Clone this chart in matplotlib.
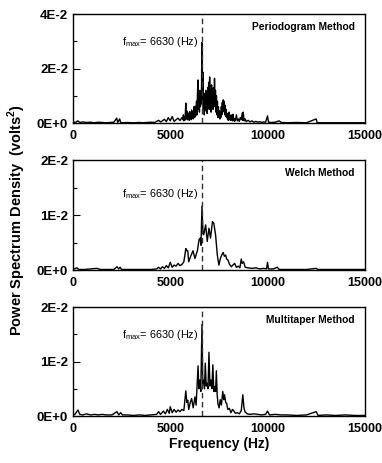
import numpy as np
import matplotlib
matplotlib.use("Agg")
import matplotlib.pyplot as plt
from matplotlib import font_manager as fm
from matplotlib.ticker import FuncFormatter, MultipleLocator

# keep the regular-width Liberation Sans (drop the Narrow files)
fm.fontManager.ttflist = [f for f in fm.fontManager.ttflist if "Narrow" not in f.fname]
plt.rcParams["font.family"] = ["Liberation Sans", "DejaVu Sans"]

F_MAX = 6630

# --- Periodogram: sparse baseline + dense band (25 Hz bins) + tail ---
pg_lo_f = [0, 150, 250, 350, 500, 700, 900, 1100, 1300, 1500, 1700, 1900, 2100, 2250,
           2300, 2400, 2450, 2600, 2800, 3000, 3200, 3400, 3600, 3800, 4000, 4200, 4300,
           4400, 4500, 4600, 4700, 4800, 4900, 5000, 5100, 5200, 5300, 5400, 5500, 5600]
pg_lo_p = [0.0002, 0.0003, 0.0008, 0.0002, 0.0004, 0.0002, 0.0003, 0.0001, 0.0003, 0.0002,
           0.0001, 0.0002, 0.0003, 0.0018, 0.0002, 0.0015, 0.0002, 0.0001, 0.0002, 0.0001,
           0.0001, 0.0002, 0.0001, 0.0002, 0.0003, 0.0002, 0.0006, 0.0010, 0.0004, 0.0008,
           0.0014, 0.0005, 0.0020, 0.0008, 0.0024, 0.0006, 0.0012, 0.0018, 0.0009, 0.0020]

pg_band_f = np.arange(5650, 8325, 25)
pg_band_p = [0.0012, 0.0030, 0.0008, 0.0022, 0.0010, 0.0035,
             0.0073, 0.0020, 0.0045, 0.0012, 0.0038, 0.0015, 0.0030, 0.0010,
             0.0042, 0.0018, 0.0035, 0.0012, 0.0048, 0.0020, 0.0040, 0.0015,
             0.0035, 0.0060, 0.0020, 0.0062, 0.0025, 0.0045, 0.0080, 0.0030,
             0.0110, 0.0158, 0.0050, 0.0095, 0.0040, 0.0120, 0.0060, 0.0085, 0.0070,
             0.0295, 0.0080, 0.0187, 0.0050, 0.0110, 0.0030, 0.0090, 0.0045, 0.0120, 0.0060,
             0.0100, 0.0035, 0.0130, 0.0070, 0.0150, 0.0050, 0.0169, 0.0080, 0.0120, 0.0040,
             0.0140, 0.0070, 0.0110, 0.0050, 0.0130, 0.0060, 0.0164, 0.0080, 0.0120, 0.0040,
             0.0100, 0.0030, 0.0080, 0.0020, 0.0060, 0.0025, 0.0045, 0.0015, 0.0040, 0.0020,
             0.0060, 0.0030, 0.0075, 0.0040, 0.0085, 0.0050, 0.0080, 0.0030, 0.0065, 0.0025,
             0.0050, 0.0020, 0.0035, 0.0012, 0.0028, 0.0010, 0.0040, 0.0015, 0.0025, 0.0010,
             0.0030, 0.0012, 0.0020, 0.0008, 0.0032, 0.0010, 0.0018, 0.0006]

pg_hi_f = [8350, 8400, 8450, 8500, 8550, 8600, 8650, 8700, 8725, 8750, 8800, 8850, 8900,
           9000, 9100, 9200, 9300, 9400, 9500, 9600, 9700, 9800, 9900, 10000, 10050, 10200,
           10400, 10600, 10700, 11000, 11500, 12000, 12500, 12550, 13000, 13500, 14000,
           14500, 15000]
pg_hi_p = [0.0010, 0.0030, 0.0008, 0.0015, 0.0006, 0.0020, 0.0012, 0.0037, 0.0010, 0.0040,
           0.0008, 0.0015, 0.0005, 0.0010, 0.0004, 0.0008, 0.0003, 0.0006, 0.0003, 0.0005,
           0.0002, 0.0004, 0.0003, 0.0026, 0.0003, 0.0002, 0.0003, 0.0008, 0.0002, 0.0001,
           0.0002, 0.0001, 0.0015, 0.0001, 0.0001, 0.0001, 0.0001, 0.0001, 0.0001]

# --- Welch ---
welch_f = [0, 200, 300, 600, 900, 1230, 1400, 1800, 2100, 2260, 2350, 2420, 2500, 3000,
           3500, 4000, 4300, 4400, 4500, 4600, 4700, 4800, 4900, 5000, 5100, 5200, 5300,
           5400, 5500, 5600, 5700, 5800, 5850, 5900, 5950, 6050, 6170, 6270, 6400, 6480,
           6540, 6580, 6630, 6680, 6720, 6820, 6900, 6990, 7070, 7170, 7240, 7330, 7420,
           7500, 7570, 7640, 7720, 7780, 7850, 7900, 7970, 8050, 8140, 8220, 8310, 8400,
           8500, 8580, 8650, 8700, 8770, 8850, 9000, 9200, 9400, 9600, 9800, 9950, 10000,
           10050, 10300, 10500, 10600, 11000, 12000, 12500, 12600, 13500, 15000]
welch_p = [0.0001, 0.0004, 0.0001, 0.0001, 0.0002, 0.0003, 0.0001, 0.0001, 0.0001, 0.0006,
           0.0002, 0.0005, 0.0001, 0.0001, 0.0001, 0.0001, 0.0002, 0.0005, 0.0002, 0.0006,
           0.0003, 0.0008, 0.0004, 0.0014, 0.0005, 0.0009, 0.0007, 0.0012, 0.0008, 0.0010,
           0.0015, 0.0039, 0.0035, 0.0035, 0.0015, 0.0025, 0.0035, 0.0021, 0.0036, 0.0055,
           0.0058, 0.0045, 0.0116, 0.0070, 0.0064, 0.0082, 0.0052, 0.0076, 0.0058, 0.0088,
           0.0085, 0.0064, 0.0027, 0.0009, 0.0020, 0.0027, 0.0032, 0.0025, 0.0027, 0.0020,
           0.0018, 0.0010, 0.0006, 0.0009, 0.0012, 0.0005, 0.0007, 0.0004, 0.0020, 0.0012,
           0.0015, 0.0005, 0.0004, 0.0003, 0.0004, 0.0002, 0.0003, 0.0002, 0.0014, 0.0002,
           0.0002, 0.0005, 0.0001, 0.0001, 0.0001, 0.0003, 0.0001, 0.0001, 0.0001]

# --- Multitaper ---
mt_f = [0, 100, 260, 350, 500, 700, 900, 1100, 1300, 1500, 1700, 2000, 2260, 2350, 2450,
        2550, 2800, 3100, 3400, 3700, 4000, 4300, 4400, 4500, 4650, 4750, 4850, 4950, 5000,
        5100, 5200, 5300, 5400, 5500, 5600, 5700, 5800, 5850, 5900, 5950, 6030, 6100, 6180,
        6270, 6330, 6430, 6470, 6520, 6570, 6630, 6670, 6700, 6760, 6800, 6850, 6890, 6940,
        6990, 7040, 7090, 7140, 7190, 7240, 7280, 7330, 7370, 7410, 7450, 7510, 7570, 7630,
        7700, 7750, 7790, 7850, 7900, 7960, 8040, 8120, 8200, 8250, 8350, 8450, 8550, 8650,
        8730, 8790, 8840, 8950, 9100, 9300, 9500, 9700, 9900, 10000, 10100, 10400, 10700,
        11000, 11500, 12000, 12500, 12600, 13000, 13500, 14000, 14500, 15000]
mt_p = [0.0002, 0.0003, 0.0011, 0.0003, 0.0002, 0.0004, 0.0002, 0.0003, 0.0002, 0.0003,
        0.0002, 0.0002, 0.0008, 0.0002, 0.0006, 0.0002, 0.0002, 0.0001, 0.0002, 0.0001,
        0.0002, 0.0003, 0.0008, 0.0003, 0.0009, 0.0004, 0.0012, 0.0005, 0.0017, 0.0006,
        0.0012, 0.0007, 0.0011, 0.0008, 0.0012, 0.0010, 0.0046, 0.0025, 0.0029, 0.0012,
        0.0025, 0.0032, 0.0015, 0.0035, 0.0020, 0.0092, 0.0050, 0.0066, 0.0045, 0.0168,
        0.0060, 0.0066, 0.0050, 0.0097, 0.0055, 0.0060, 0.0050, 0.0117, 0.0055, 0.0066,
        0.0050, 0.0094, 0.0045, 0.0054, 0.0045, 0.0083, 0.0040, 0.0023, 0.0015, 0.0030,
        0.0020, 0.0045, 0.0030, 0.0039, 0.0025, 0.0023, 0.0012, 0.0014, 0.0006, 0.0012,
        0.0010, 0.0005, 0.0006, 0.0004, 0.0010, 0.0039, 0.0015, 0.0008, 0.0004, 0.0003,
        0.0004, 0.0003, 0.0002, 0.0003, 0.0009, 0.0002, 0.0003, 0.0002, 0.0002, 0.0001,
        0.0002, 0.0008, 0.0001, 0.0002, 0.0001, 0.0002, 0.0001, 0.0001]

pg_f = np.concatenate([pg_lo_f, pg_band_f, pg_hi_f])
pg_p = np.concatenate([pg_lo_p, pg_band_p, pg_hi_p])

panels = [
    ("Periodogram Method", pg_f, pg_p, 0.04, 0.02, [0.191, 0.7343, 0.764, 0.2354], 0.74),
    ("Welch Method", welch_f, welch_p, 0.02, 0.01, [0.191, 0.4168, 0.764, 0.2376], 0.69),
    ("Multitaper Method", mt_f, mt_p, 0.02, 0.01, [0.191, 0.1015, 0.764, 0.2354], 0.74),
]


def sci_fmt(v, pos):
    if abs(v) < 1e-12:
        return "0E+0"
    return f"{v * 100:.0f}E-2"


fig = plt.figure(figsize=(3.82, 4.63), dpi=100)

for title, f, p, ymax, ystep, rect, ann_y in panels:
    ax = fig.add_axes(rect)
    ax.plot(f, p, color="black", lw=1.0)
    ax.axvline(F_MAX, color="#333333", lw=1.0, ls=(0, (4, 2.5)))
    ax.set_xlim(0, 15000)
    ax.set_ylim(0, ymax)
    ax.set_xticks([0, 5000, 10000, 15000])
    ax.set_yticks([0, ystep, ymax])
    ax.yaxis.set_minor_locator(MultipleLocator(ystep / 2))
    ax.yaxis.set_major_formatter(FuncFormatter(sci_fmt))
    ax.tick_params(axis="x", length=0, pad=5, labelsize=9)
    ax.tick_params(axis="y", which="major", direction="in", length=5, width=0.8,
                   labelsize=9.5, pad=3.5)
    ax.tick_params(axis="y", which="minor", direction="in", length=3, width=0.8)
    for lab in ax.get_xticklabels() + ax.get_yticklabels():
        lab.set_fontweight("bold")
    for s in ax.spines.values():
        s.set_linewidth(1.0)
    ax.text(0.965, 0.88, title, transform=ax.transAxes, ha="right", va="center",
            fontsize=7.4, fontweight="bold")
    ax.text(6450, ann_y * ymax, r"f$_{\mathregular{max}}$= 6630 (Hz)", ha="right", va="center",
            fontsize=7.8)

fig.text(0.575, 0.04, "Frequency (Hz)", ha="center", va="center", fontsize=10, fontweight="bold")
fig.text(0.045, 0.525, r"Power Spectrum Density  (volts$^\mathregular{2}$)", ha="center",
         va="center", rotation=90, fontsize=10.5, fontweight="bold")

fig.savefig("out.png", dpi=100)
